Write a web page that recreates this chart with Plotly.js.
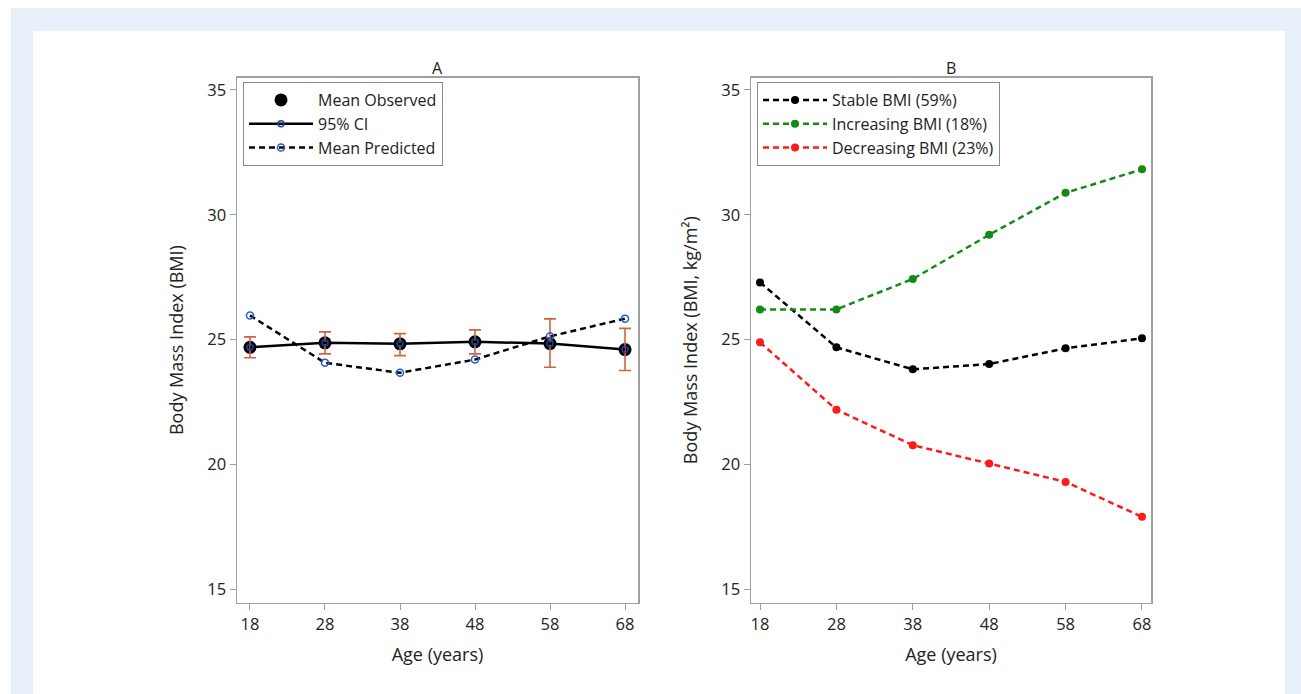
<!DOCTYPE html>
<html>
<head>
<meta charset="utf-8">
<script src="https://cdn.plot.ly/plotly-3.0.1.min.js"></script>
<style>
  html, body { margin: 0; padding: 0; background: #ffffff; width: 1301px; height: 694px; overflow: hidden; }
  #bg { position: absolute; left: 11px; top: 8px; width: 1290px; height: 686px; background: #e7f0f9; }
  #card { position: absolute; left: 33px; top: 31px; width: 1252px; height: 663px; background: #ffffff; }
  #chart { position: absolute; left: 0; top: 0; width: 1301px; height: 694px; }
</style>
</head>
<body>
<div id="bg"></div>
<div id="card"></div>
<div id="chart"></div>
<script>
// ---- data ----
const ages = [18, 28, 38, 48, 58, 68];
const ageTicks = ['18', '28', '38', '48', '58', '68'];
const bmiTicks = [15, 20, 25, 30, 35];

// Panel A
const obsMean  = [24.69, 24.87, 24.83, 24.91, 24.84, 24.60];
const ciUpper  = [25.11, 25.31, 25.24, 25.39, 25.83, 25.45];
const ciLower  = [24.27, 24.43, 24.36, 24.43, 23.89, 23.76];
const predMean = [25.97, 24.07, 23.67, 24.20, 25.13, 25.84];

// Panel B
const stableBMI     = [27.29, 24.69, 23.81, 24.02, 24.65, 25.05];
const increasingBMI = [26.21, 26.21, 27.43, 29.20, 30.88, 31.82];
const decreasingBMI = [24.89, 22.19, 20.77, 20.04, 19.30, 17.90];

const seriesNamesA = ['Mean Observed', '95% CI', 'Mean Predicted'];
const seriesNamesB = ['Stable BMI (59%)', 'Increasing BMI (18%)', 'Decreasing BMI (23%)'];

// ---- styling ----
const FONT = 'Open Sans, Noto Sans, DejaVu Sans, sans-serif';
const TXT = '#222222';
const AXC = '#a0a0a0';
const BLUE = '#2a5bd0';
const ERRC = '#d0643c';

const errPlus  = ciUpper.map((u, i) => u - obsMean[i]);
const errMinus = obsMean.map((m, i) => m - ciLower[i]);

const traces = [
  { x: ages, y: obsMean, xaxis: 'x', yaxis: 'y', type: 'scatter', mode: 'markers',
    name: seriesNamesA[0], legend: 'legend',
    marker: { color: '#000000', size: 13 } },
  { x: ages, y: obsMean, xaxis: 'x', yaxis: 'y', type: 'scatter', mode: 'lines+markers',
    name: seriesNamesA[1], legend: 'legend',
    line: { color: '#000000', width: 2.5 },
    marker: { symbol: 'circle-open', color: '#1c3f9a', size: 6, line: { width: 1.5, color: '#1c3f9a' } },
    error_y: { type: 'data', symmetric: false, array: errPlus, arrayminus: errMinus,
               color: ERRC, thickness: 1.6, width: 6 } },
  { x: ages, y: predMean, xaxis: 'x', yaxis: 'y', type: 'scatter', mode: 'lines+markers',
    name: seriesNamesA[2], legend: 'legend',
    line: { color: '#000000', width: 2.5, dash: '6px,4px' },
    marker: { symbol: 'circle-open', color: BLUE, size: 7, line: { width: 1.5, color: BLUE } } },

  { x: ages, y: stableBMI, xaxis: 'x2', yaxis: 'y2', type: 'scatter', mode: 'lines+markers',
    name: seriesNamesB[0], legend: 'legend2',
    line: { color: '#000000', width: 2.5, dash: '6px,4px' },
    marker: { color: '#000000', size: 8 } },
  { x: ages, y: increasingBMI, xaxis: 'x2', yaxis: 'y2', type: 'scatter', mode: 'lines+markers',
    name: seriesNamesB[1], legend: 'legend2',
    line: { color: '#138a13', width: 2.5, dash: '6px,4px' },
    marker: { color: '#138a13', size: 8 } },
  { x: ages, y: decreasingBMI, xaxis: 'x2', yaxis: 'y2', type: 'scatter', mode: 'lines+markers',
    name: seriesNamesB[2], legend: 'legend2',
    line: { color: '#ff1a1a', width: 2.5, dash: '6px,4px' },
    marker: { color: '#ff1a1a', size: 8 } }
];

const W = 1301, H = 694;
const yTop = 1 - 77.5 / H, yBot = 1 - 602.7 / H;

function xAxis(domain, range) {
  return {
    domain: domain, range: range,
    tickmode: 'array', tickvals: ages, ticktext: ageTicks,
    ticks: 'outside', ticklen: 6, tickcolor: AXC, tickwidth: 1,
    showline: true, linecolor: AXC, linewidth: 1.5, mirror: true,
    showgrid: false, zeroline: false,
    tickfont: { family: FONT, size: 16.5, color: TXT },
    title: { text: 'Age (years)', font: { family: FONT, size: 18, color: TXT }, standoff: 14 }
  };
}
function yAxis(anchor, title) {
  return {
    anchor: anchor, domain: [yBot, yTop], range: [14.46, 35.5],
    tickmode: 'array', tickvals: bmiTicks, ticktext: bmiTicks.map(String),
    ticks: 'outside', ticklen: 6, tickcolor: AXC, tickwidth: 1,
    showline: true, linecolor: AXC, linewidth: 1.5, mirror: true,
    showgrid: false, zeroline: false,
    tickfont: { family: FONT, size: 16.5, color: TXT },
    title: { text: title, font: { family: FONT, size: 18, color: TXT }, standoff: 19 }
  };
}

const legendStyle = (x) => ({
  x: x, y: 1 - 82 / H, xref: 'paper', yref: 'paper', xanchor: 'left', yanchor: 'top',
  bgcolor: '#ffffff', bordercolor: '#8a8a8a', borderwidth: 1,
  font: { family: FONT, size: 16, color: TXT },
  tracegroupgap: 0, itemwidth: 64
});

const layout = {
  width: W, height: H,
  margin: { l: 0, r: 0, t: 0, b: 0 },
  paper_bgcolor: 'rgba(0,0,0,0)',
  plot_bgcolor: '#ffffff',
  showlegend: true,
  xaxis: Object.assign(xAxis([237 / W, 638 / W], [16.27, 69.73]), { anchor: 'y' }),
  yaxis: yAxis('x', 'Body Mass Index (BMI)'),
  xaxis2: Object.assign(xAxis([751 / W, 1151 / W], [16.82, 69.18]), { anchor: 'y2' }),
  yaxis2: yAxis('x2', 'Body Mass Index (BMI, kg/m²)'),
  legend: legendStyle(243 / W),
  legend2: legendStyle(757 / W),
  annotations: [
    { text: 'A', xref: 'paper', yref: 'paper', x: (237 + 638) / 2 / W, y: 1 - 68 / H,
      showarrow: false, font: { family: FONT, size: 16, color: TXT }, xanchor: 'center', yanchor: 'middle' },
    { text: 'B', xref: 'paper', yref: 'paper', x: (751 + 1151) / 2 / W, y: 1 - 68 / H,
      showarrow: false, font: { family: FONT, size: 16, color: TXT }, xanchor: 'center', yanchor: 'middle' }
  ]
};

Plotly.newPlot('chart', traces, layout, { displayModeBar: false, staticPlot: true });
</script>
</body>
</html>
